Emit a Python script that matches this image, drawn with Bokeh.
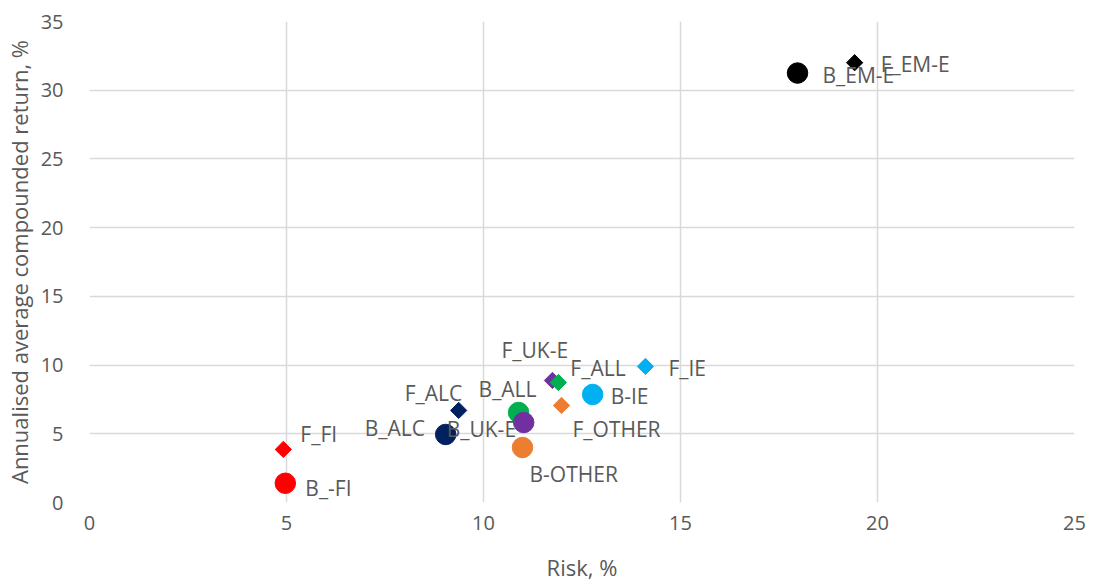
import math
from bokeh.plotting import figure
from bokeh.models import ColumnDataSource, FixedTicker
from bokeh.embed import file_html
from bokeh.resources import INLINE
from bokeh.core.properties import value

# Data
names = ["F_FI", "B_-FI", "F_ALC", "B_ALC", "B_ALL", "B_UK-E", "F_UK-E", "F_ALL",
         "F_OTHER", "B-OTHER", "B-IE", "F_IE", "B_EM-E", "F_EM-E"]
risk = [4.92, 4.97, 9.37, 9.04, 10.89, 11.02, 11.75, 11.9, 11.98, 10.99, 12.77, 14.11, 17.97, 19.42]
ret = [3.86, 1.4, 6.7, 4.95, 6.55, 5.82, 8.88, 8.73, 7.06, 4.0, 7.86, 9.9, 31.25, 32.0]
kind = ["F", "B", "F", "B", "B", "B", "F", "F", "F", "B", "B", "F", "B", "F"]
colors = ["#FF0000", "#FF0000", "#002060", "#002060", "#00B050", "#7030A0", "#7030A0", "#00B050",
          "#ED7D31", "#ED7D31", "#00B0F0", "#00B0F0", "#000000", "#000000"]
x_ticks = [0, 5, 10, 15, 20, 25]
y_ticks = [0, 5, 10, 15, 20, 25, 30, 35]

# label placement (pixel offsets, styling)
lab_dx = [17, 20, -54, -81, -40, -77, -51, 12, 11, 7, 18, 23, 25, 26]
lab_dy = [-15, 5, -17, -6, -23, 6, -30, -15, 24, 26, 2, 2, 2, 1]

src_f = ColumnDataSource(dict(x=[r for r, k in zip(risk, kind) if k == "F"],
                              y=[v for v, k in zip(ret, kind) if k == "F"],
                              c=[c for c, k in zip(colors, kind) if k == "F"]))
src_b = ColumnDataSource(dict(x=[r for r, k in zip(risk, kind) if k == "B"],
                              y=[v for v, k in zip(ret, kind) if k == "B"],
                              c=[c for c, k in zip(colors, kind) if k == "B"]))
src_l = ColumnDataSource(dict(x=risk, y=ret, t=names, dx=lab_dx, dy=lab_dy))

p = figure(width=1094, height=586, output_backend="svg", toolbar_location=None,
           x_range=(0, 25), y_range=(0, 35),
           min_border_left=89, min_border_right=20, min_border_top=21, min_border_bottom=84)
p.outline_line_color = None
p.background_fill_color = "white"
p.border_fill_color = "white"

p.scatter("x", "y", source=src_b, marker="circle", size=20.5, color="c")
p.scatter("x", "y", source=src_f, marker="square", size=11.5, angle=math.pi / 4, color="c")
p.text("x", "y", text="t", source=src_l, x_offset="dx", y_offset="dy",
       text_font=value("Open Sans"), text_font_size="21px", text_color="#595959",
       text_baseline="middle", text_align="left")

for ax in (p.xaxis, p.yaxis):
    ax.axis_line_color = None
    ax.major_tick_line_color = None
    ax.minor_tick_line_color = None
    ax.major_label_text_font = "Open Sans"
    ax.major_label_text_font_size = "20px"
    ax.major_label_text_color = "#595959"
    ax.axis_label_text_font = "Open Sans"
    ax.axis_label_text_font_size = "22px"
    ax.axis_label_text_color = "#595959"
    ax.axis_label_text_font_style = "normal"

p.xaxis.ticker = FixedTicker(ticks=x_ticks)
p.yaxis.ticker = FixedTicker(ticks=y_ticks)
p.xaxis.axis_label = "Risk, %"
p.yaxis.axis_label = "Annualised average compounded return, %"
p.xaxis.major_label_standoff = 7
p.yaxis.major_label_standoff = 20
p.xaxis.axis_label_standoff = 19
p.yaxis.axis_label_standoff = 4

p.xgrid.grid_line_color = "#D9D9D9"
p.ygrid.grid_line_color = "#D9D9D9"
p.xgrid.grid_line_width = 1.5
p.ygrid.grid_line_width = 1.5

open("out.html", "w").write(file_html(p, INLINE))
